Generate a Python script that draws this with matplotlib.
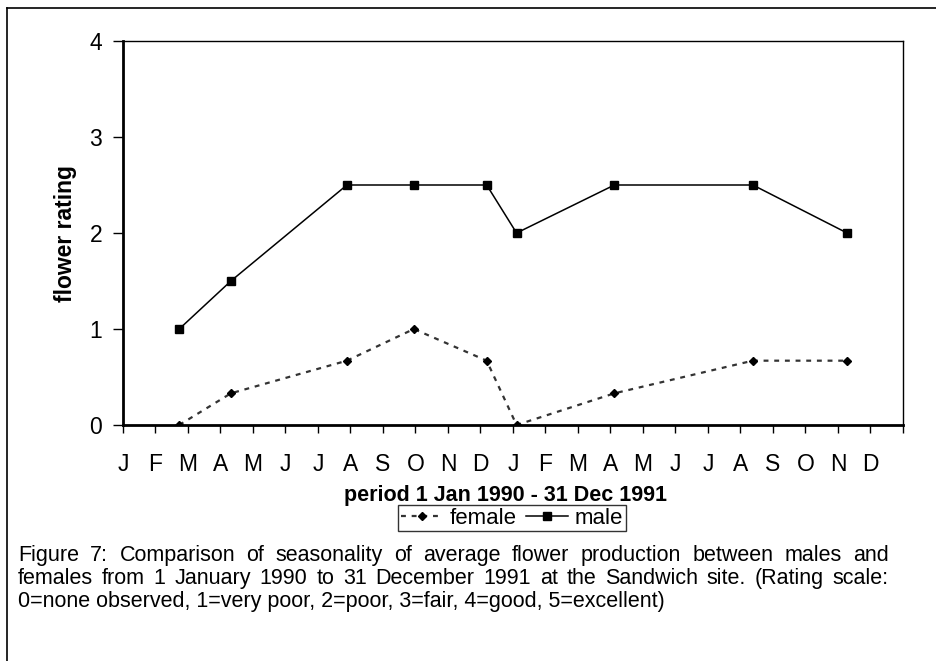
import matplotlib
matplotlib.use("Agg")
import matplotlib.pyplot as plt
from matplotlib.lines import Line2D

plt.rcParams["font.family"] = ["Liberation Sans", "DejaVu Sans"]

# sampling dates as month position (0 = 1 Jan 1990, 24 = 31 Dec 1991)
sample_month = [1.73, 3.32, 6.89, 8.95, 11.19, 12.11, 15.12, 19.38, 22.28]
female = [0.0, 0.33, 0.67, 1.0, 0.67, 0.0, 0.33, 0.67, 0.67]
male = [1.0, 1.5, 2.5, 2.5, 2.5, 2.0, 2.5, 2.5, 2.0]
month_letters = list("JFMAMJJASOND") * 2
y_ticks = [0, 1, 2, 3, 4]

caption_lines = [
    ("Figure 7: Comparison of seasonality of average flower production between males and", True),
    ("females from 1 January 1990 to 31 December 1991 at the Sandwich site. (Rating scale:", True),
    ("0=none observed, 1=very poor, 2=poor, 3=fair, 4=good, 5=excellent)", False),
]

W, H = 937, 661
fig = plt.figure(figsize=(W / 100, H / 100), dpi=100, facecolor="white")


def fx(px):
    return px / W


def fy(py):
    return 1 - py / H


ax = fig.add_axes([fx(123), fy(425), fx(903) - fx(123), fy(41) - fy(425)])

ax.plot(sample_month, female, color="#333333", linestyle=(0, (2.2, 2.6)), linewidth=1.6,
        marker="D", markersize=4.5, markerfacecolor="black", markeredgecolor="black", label="female")
ax.plot(sample_month, male, color="black", linestyle="-", linewidth=1.1,
        marker="s", markersize=6, markerfacecolor="black", markeredgecolor="black", label="male")

ax.set_xlim(0, 24)
ax.set_ylim(0, 4)
ax.set_xticks(range(25))
ax.set_xticklabels(month_letters + [""])
ax.set_yticks(y_ticks)
ax.tick_params(axis="x", direction="out", length=6, width=1, pad=14, labelsize=16.5)
ax.tick_params(axis="y", direction="out", length=7, width=1, pad=8, labelsize=16.5)

for side in ("left", "bottom"):
    ax.spines[side].set_linewidth(2)
for side in ("top", "right"):
    ax.spines[side].set_linewidth(1)

ax.set_ylabel("flower rating", fontsize=16.5, fontweight="bold")
ax.yaxis.set_label_coords(-0.059, 0.5)
ax.set_xlabel("period 1 Jan 1990 - 31 Dec 1991", fontsize=15.5, fontweight="bold")
ax.xaxis.label.set_verticalalignment("center")
ax.xaxis.set_label_coords((506 - 123) / 780, (425 - 495) / 384)

leg = fig.legend(loc="center", bbox_to_anchor=(fx(512), fy(518)), ncol=2, fontsize=16,
                 frameon=True, fancybox=False, handlelength=1.9, handletextpad=0.3,
                 columnspacing=0.4, borderpad=0.12, borderaxespad=0)
leg.get_frame().set_edgecolor("black")
leg.get_frame().set_linewidth(1)

# caption, first two lines justified
renderer = fig.canvas.get_renderer()
left_px, right_px = 18, 889
cap_size = 15.5
line_base = [561, 584, 607]
for (text, justify), y in zip(caption_lines, line_base):
    if not justify:
        fig.text(fx(left_px), fy(y), text, fontsize=cap_size, va="baseline", ha="left")
        continue
    words = text.split(" ")
    artists = [fig.text(0, fy(y), w, fontsize=cap_size, va="baseline", ha="left") for w in words]
    widths = [a.get_window_extent(renderer).width for a in artists]
    gap = (right_px - left_px - sum(widths)) / (len(words) - 1)
    x = left_px
    for a, w in zip(artists, widths):
        a.set_x(fx(x))
        x += w + gap

# outer frame of the figure panel
fig.add_artist(Line2D([fx(7.5), fx(7.5)], [0, fy(7.5)], color="black", linewidth=1.2))
fig.add_artist(Line2D([fx(7.5), 1], [fy(7.5), fy(7.5)], color="black", linewidth=1.2))

fig.savefig("out.png", dpi=100, facecolor="white")
